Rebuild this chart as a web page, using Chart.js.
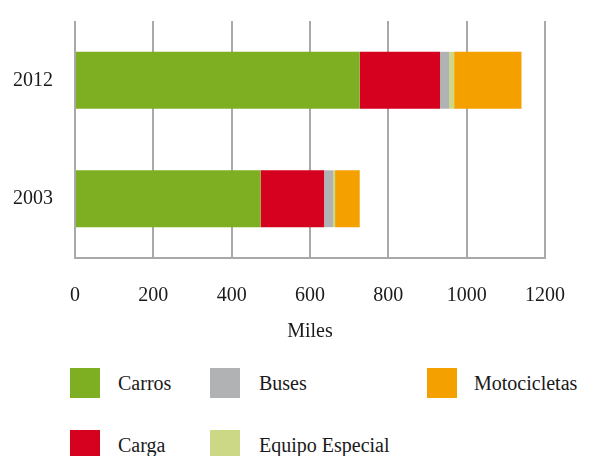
<!DOCTYPE html>
<html>
<head>
<meta charset="utf-8">
<script src="https://cdn.jsdelivr.net/npm/chart.js@4.4.0/dist/chart.umd.min.js"></script>
<style>
    body { margin: 0; background: #fff; }
    #wrap { position: relative; width: 593px; height: 456px; }
    #chartBox { position: absolute; left: 0; top: 0; width: 593px; height: 350px; }
    .leyenda-item { position: absolute; font-family: 'Liberation Serif', serif; font-size: 20px; color: #1a1a1a; }
    .leyenda-item span.cuadro { position: absolute; left: 0; top: 0; width: 30px; height: 30px; }
    .leyenda-item span.texto { position: absolute; top: 15px; transform: translateY(-50%); white-space: nowrap; }
</style>
</head>
<body>
<div id="wrap">
    <div id="chartBox"><canvas id="transporteChart"></canvas></div>
    <div id="leyenda"></div>
</div>
<script>
// Datos
const anios = ['2012', '2003'];
const carros = [727, 474];
const carga = [205, 162];
const buses = [23, 23];
const equipoEspecial = [13, 5];
const motocicletas = [172, 63];
const ticksX = [0, 200, 400, 600, 800, 1000, 1200];

const series = [
    { label: 'Carros', data: carros, color: '#7eaf23' },
    { label: 'Carga', data: carga, color: '#d6001f' },
    { label: 'Buses', data: buses, color: '#b1b2b4' },
    { label: 'Equipo Especial', data: equipoEspecial, color: '#ccd886' },
    { label: 'Motocicletas', data: motocicletas, color: '#f4a100' }
];

// posiciones de la leyenda (3 columnas, 2 filas)
const leyendaPos = {
    'Carros': [70, 368, 48],
    'Buses': [210, 368, 49],
    'Motocicletas': [427, 368, 47],
    'Carga': [70, 430, 48],
    'Equipo Especial': [210, 430, 49]
};

document.addEventListener('DOMContentLoaded', function () {
    initChart();
    initLeyenda();
});

function initChart() {
    const ctx = document.getElementById('transporteChart');
    const fuente = { family: "'Liberation Serif', serif", size: 20 };
    new Chart(ctx, {
        type: 'bar',
        data: {
            labels: anios,
            datasets: series.map(s => ({
                label: s.label,
                data: s.data,
                backgroundColor: s.color,
                borderWidth: 0,
                barPercentage: 0.48,
                categoryPercentage: 1
            }))
        },
        options: {
            indexAxis: 'y',
            responsive: true,
            maintainAspectRatio: false,
            animation: false,
            layout: { padding: { top: 21, right: 48, left: 0, bottom: 0 } },
            plugins: { legend: { display: false }, tooltip: { enabled: false } },
            scales: {
                x: {
                    stacked: true,
                    min: 0,
                    max: 1200,
                    afterBuildTicks: function (axis) {
                        axis.ticks = ticksX.map(v => ({ value: v }));
                    },
                    grid: { color: '#a9a9a9', lineWidth: 2, drawTicks: false },
                    border: { display: true, color: '#a9a9a9', width: 2 },
                    ticks: {
                        color: '#1a1a1a', font: fuente, padding: 26, maxRotation: 0,
                        callback: function (value) { return String(value); }
                    },
                    title: { display: true, text: 'Miles', color: '#1a1a1a', font: fuente, padding: { top: 0, bottom: 6 } },
                    afterFit: function (scale) { scale.height = 92; }
                },
                y: {
                    stacked: true,
                    grid: { display: false, drawTicks: false },
                    border: { display: false },
                    ticks: { color: '#1a1a1a', font: fuente, padding: 22 },
                    afterFit: function (scale) {
                        scale.width = 75;
                        // sin relleno vertical extra por el padding de las etiquetas
                        scale.paddingTop = 0;
                        scale.paddingBottom = 0;
                    }
                }
            }
        }
    });
}

function initLeyenda() {
    const cont = document.getElementById('leyenda');
    series.forEach(s => {
        const pos = leyendaPos[s.label];
        const item = document.createElement('div');
        item.className = 'leyenda-item';
        item.style.left = pos[0] + 'px';
        item.style.top = pos[1] + 'px';
        item.innerHTML = '<span class="cuadro" style="background:' + s.color + '"></span>' +
            '<span class="texto" style="left:' + pos[2] + 'px">' + s.label + '</span>';
        cont.appendChild(item);
    });
}
</script>
</body>
</html>
